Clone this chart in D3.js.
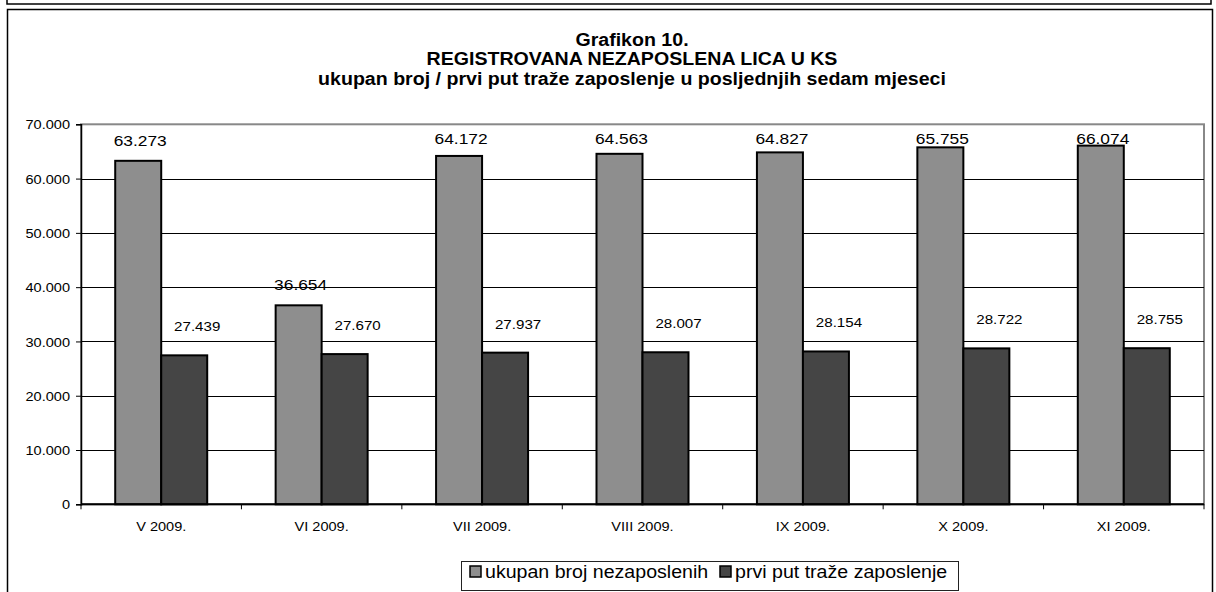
<!DOCTYPE html>
<html>
<head>
<meta charset="utf-8">
<script src="https://cdn.jsdelivr.net/npm/d3@7"></script>
<style>
  html, body { margin: 0; padding: 0; background: #fff; }
  svg { display: block; font-family: "Liberation Sans", Arial, sans-serif; }
</style>
</head>
<body>
<svg id="chart" width="1216" height="592"></svg>
<script>
// ---- data ----
const categories = ["V 2009.", "VI 2009.", "VII 2009.", "VIII 2009.", "IX 2009.", "X 2009.", "XI 2009."];
const totalUnemployed = [63273, 36654, 64172, 64563, 64827, 65755, 66074];
const firstJobSeekers = [27439, 27670, 27937, 28007, 28154, 28722, 28755];
const seriesNames = ["ukupan broj nezaposlenih", "prvi put traže zaposlenje"];
const yTickValues = [0, 10000, 20000, 30000, 40000, 50000, 60000, 70000];
const titleLines = ["Grafikon 10.", "REGISTROVANA NEZAPOSLENA LICA U KS", "ukupan broj / prvi put traže zaposlenje u posljednjih sedam mjeseci"];

// ---- style ----
const SX = 1.12; // horizontal stretch of the reference text
const colors = ["#8e8e8e", "#454545"];
const margin = { left: 81, right: 1204, top: 124.3, bottom: 504.3 };

const locale = d3.formatLocale({ decimal: ",", thousands: ".", grouping: [3], currency: ["", ""] });
const fmt = locale.format(",d");

const svg = d3.select("#chart");

// frames
svg.append("rect").attr("x", 7).attr("y", -20).attr("width", 1204).attr("height", 24)
  .attr("fill", "none").attr("stroke", "#000").attr("stroke-width", 1.5);
svg.append("rect").attr("x", 7.5).attr("y", 9.5).attr("width", 1205).attr("height", 600)
  .attr("fill", "#fff").attr("stroke", "#000").attr("stroke-width", 1.5);

function stretchedText(sel, x, y) {
  return sel.attr("transform", `translate(${x},${y}) scale(${SX},1)`);
}

// title
const titleY = [46, 65, 85];
titleLines.forEach((t, i) => {
  stretchedText(svg.append("text"), 632, titleY[i])
    .attr("text-anchor", "middle").attr("font-weight", "bold").attr("font-size", 17.5)
    .attr("fill", "#000").text(t);
});

// scales
const x0 = d3.scaleBand().domain(categories).range([margin.left, margin.right]).paddingInner(0).paddingOuter(0);
const bw = x0.bandwidth();
const barW = 46;
const x1 = d3.scaleBand().domain(seriesNames).range([bw / 2 - barW, bw / 2 + barW]).padding(0);
const y = d3.scaleLinear().domain([0, 70000]).range([margin.bottom, margin.top]);

// plot area border (gray)
svg.append("rect").attr("x", margin.left).attr("y", margin.top)
  .attr("width", margin.right - margin.left).attr("height", margin.bottom - margin.top)
  .attr("fill", "none").attr("stroke", "#888").attr("stroke-width", 2);

// gridlines
svg.append("g").selectAll("line").data(yTickValues.filter(v => v > 0 && v < 70000)).join("line")
  .attr("x1", margin.left).attr("x2", margin.right)
  .attr("y1", d => Math.round(y(d)) + 0.5).attr("y2", d => Math.round(y(d)) + 0.5)
  .attr("stroke", "#000").attr("stroke-width", 1);

// y axis
const yAxis = d3.axisLeft(y).tickValues(yTickValues).tickFormat(d => fmt(d)).tickSize(5).tickPadding(6);
const gy = svg.append("g").attr("transform", `translate(${margin.left},0)`).call(yAxis);
gy.select(".domain").attr("stroke", "#000").attr("stroke-width", 1.5);
gy.selectAll(".tick line").attr("stroke", "#000");
gy.selectAll(".tick text").attr("font-size", 13).attr("font-family", "Liberation Sans, Arial, sans-serif")
  .attr("fill", "#000").attr("x", 0).attr("dy", "0.35em")
  .attr("transform", `translate(-11,0) scale(${SX},1)`);

// bars
const rows = categories.map((c, i) => ({ cat: c, vals: [totalUnemployed[i], firstJobSeekers[i]] }));
const groups = svg.append("g").selectAll("g").data(rows).join("g")
  .attr("transform", d => `translate(${x0(d.cat)},0)`);
groups.selectAll("rect").data(d => d.vals.map((v, k) => ({ v, k }))).join("rect")
  .attr("x", d => x1(seriesNames[d.k]))
  .attr("y", d => y(d.v))
  .attr("width", x1.bandwidth())
  .attr("height", d => y(0) - y(d.v))
  .attr("fill", d => colors[d.k])
  .attr("stroke", "#000").attr("stroke-width", 2);

// x axis
const xAxisLine = svg.append("g");
xAxisLine.append("line").attr("x1", margin.left).attr("x2", margin.right)
  .attr("y1", margin.bottom).attr("y2", margin.bottom).attr("stroke", "#000").attr("stroke-width", 2);
xAxisLine.selectAll("line.tk").data(d3.range(categories.length + 1)).join("line").attr("class", "tk")
  .attr("x1", i => margin.left + i * bw).attr("x2", i => margin.left + i * bw)
  .attr("y1", margin.bottom).attr("y2", margin.bottom + 5).attr("stroke", "#000");
categories.forEach(c => {
  stretchedText(svg.append("text"), x0(c) + bw / 2, 531)
    .attr("text-anchor", "middle").attr("font-size", 13).attr("fill", "#000").text(c);
});

// data labels
groups.each(function (d) {
  const g = d3.select(this);
  const topGray = y(d.vals[0]);
  const cxGray = x1(seriesNames[0]) + x1.bandwidth() / 2;
  stretchedText(g.append("text"), cxGray + 2, Math.max(topGray - 15, 143.5))
    .attr("text-anchor", "middle").attr("font-size", 15.5).attr("fill", "#000").text(fmt(d.vals[0]));
  const topDark = y(d.vals[1]);
  const cxDark = x1(seriesNames[1]) + x1.bandwidth() / 2;
  stretchedText(g.append("text"), cxDark + 13, topDark - 24)
    .attr("text-anchor", "middle").attr("font-size", 13.5).attr("fill", "#000").text(fmt(d.vals[1]));
});

// legend
const lg = svg.append("g");
lg.append("rect").attr("x", 461.5).attr("y", 561.5).attr("width", 497).attr("height", 29)
  .attr("fill", "#fff").attr("stroke", "#222").attr("stroke-width", 1);
const legendX = [470, 720];
seriesNames.forEach((n, k) => {
  lg.append("rect").attr("x", legendX[k]).attr("y", 566).attr("width", 11).attr("height", 11)
    .attr("fill", colors[k]).attr("stroke", "#000").attr("stroke-width", 1.5);
  stretchedText(lg.append("text"), legendX[k] + 15, 577.5)
    .attr("font-size", 17.5).attr("fill", "#000").text(n);
});
</script>
</body>
</html>
